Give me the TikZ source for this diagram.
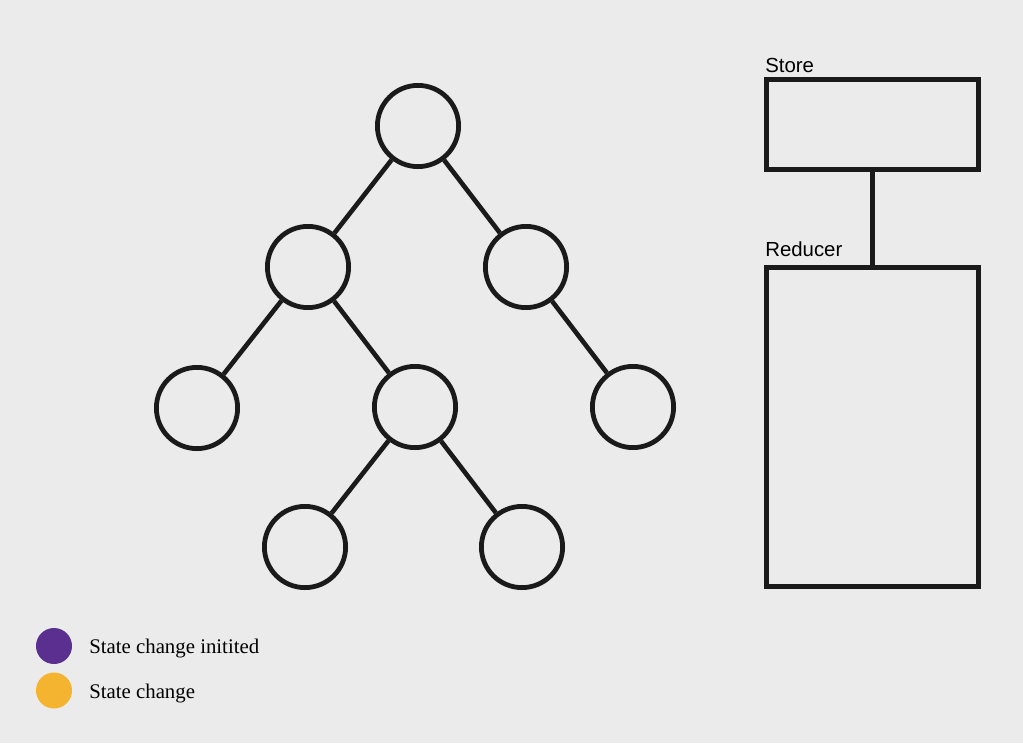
\documentclass[tikz,border=0pt]{standalone}
\usepackage{fontspec}
\setmainfont{Liberation Serif}
\setsansfont{Liberation Sans}
\definecolor{bg}{HTML}{ECEBEC}
\definecolor{ink}{HTML}{1A1A1A}
\definecolor{initpurple}{HTML}{5B2F8F}
\definecolor{changeyellow}{HTML}{F4B42F}

\begin{document}
\begin{tikzpicture}[x=0.025cm,y=-0.025cm,
  tree_node/.style={circle,draw=ink,line width=3.4pt,minimum size=2.03cm,inner sep=0},
  box_node/.style={rectangle,draw=ink,line width=3.6pt,minimum width=5.3cm,inner sep=0},
  box_label/.style={anchor=base west,inner sep=0,font=\sffamily\fontsize{14.5}{16}\selectfont},
  legend_dot/.style={circle,minimum size=0.9cm,inner sep=0},
  legend_text/.style={anchor=base west,inner sep=0,font=\fontsize{14.8}{17}\selectfont}]

    \fill[bg] (0,0) rectangle (1023,743);
    \useasboundingbox (0,0) rectangle (1023,743);

    \node[tree_node] (1) at (418,126) {};
    \node[tree_node] (2) at (308,267) {};
    \node[tree_node] (3) at (526,267) {};
    \node[tree_node] (4) at (197,408) {};
    \node[tree_node] (5) at (415,407) {};
    \node[tree_node] (6) at (633,407) {};
    \node[tree_node] (7) at (305,547) {};
    \node[tree_node] (8) at (522,547) {};

    \node[box_node, minimum height=2.25cm] (10) at (872.5,124.5) {};
    \node[box_node, minimum height=7.98cm] (11) at (872.5,427) {};
    \node[box_label] (12) at (765,72) {Store};
    \node[box_label] (13) at (765,256) {Reducer};

    \node[legend_dot, fill=initpurple] (14) at (54,646) {};
    \node[legend_dot, fill=changeyellow] (15) at (54,690.5) {};
    \node[legend_text] (16) at (89,653) {State change initited};
    \node[legend_text] (17) at (89,698) {State change};

    \draw[ink, line width=3.3pt] (2) -- (1) -- (3);
    \draw[ink, line width=3.3pt] (4) -- (2) -- (5);
    \draw[ink, line width=3.3pt] (3) -- (6);
    \draw[ink, line width=3.3pt] (7) -- (5) -- (8);

    \draw[ink, line width=3.6pt] (10) -- (11);

\end{tikzpicture}
\end{document}
